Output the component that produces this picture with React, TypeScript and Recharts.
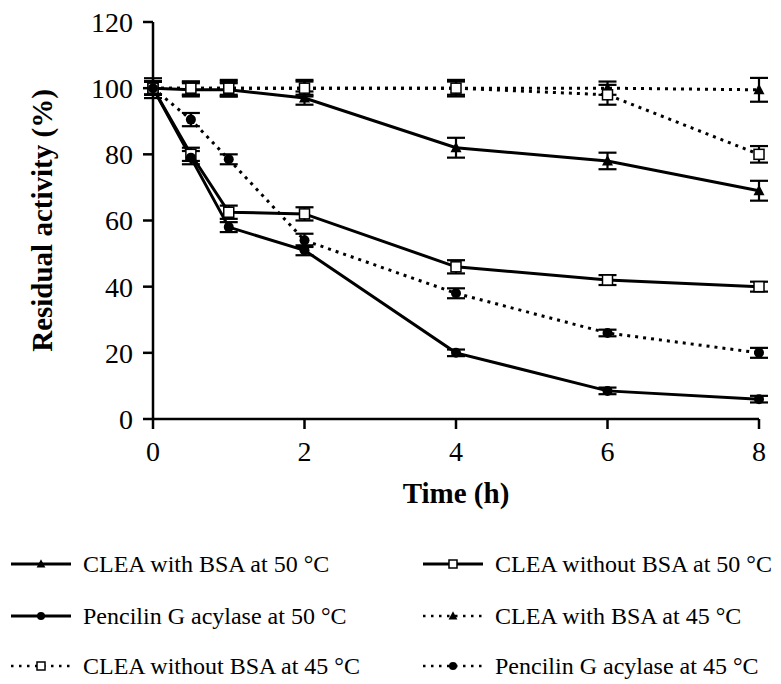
import React from 'react';
import { LineChart, Line, XAxis, YAxis, ErrorBar } from 'recharts';

// time points (h)
const times = [0, 0.5, 1, 2, 4, 6, 8];

// residual activity (%) and error bars
const bsa50 = [100, 99.5, 99.5, 97, 82, 78, 69];
const bsa50Err = [3, 2, 2, 2, 3, 2.5, 3];
const noBsa50 = [100, 80, 62.5, 62, 46, 42, 40];
const noBsa50Err = [2, 2, 2, 2, 2, 1.5, 1.5];
const pga50 = [100, 79, 58, 51, 20, 8.5, 6];
const pga50Err = [2, 2, 1.5, 1.5, 1, 1, 1];
const bsa45 = [100, 100, 100, 100, 100, 100, 99.5];
const bsa45Err = [2, 2, 2, 2, 2, 2, 3.6];
const noBsa45 = [100, 100, 100, 100, 100, 98, 80];
const noBsa45Err = [2, 2, 2.5, 2.5, 2.5, 3, 2.5];
const pga45 = [100, 90.5, 78.5, 54, 38, 26, 20];
const pga45Err = [2, 2, 1.5, 2, 1.5, 1, 1.5];

const xTicks = [0, 2, 4, 6, 8];
const yTicks = [0, 20, 40, 60, 80, 100, 120];

type Marker = 'triangle' | 'square' | 'circle';

const series: { key: string; name: string; values: number[]; errors: number[]; marker: Marker; dotted: boolean }[] = [
  { key: 'bsa50', name: 'CLEA with BSA at 50 °C', values: bsa50, errors: bsa50Err, marker: 'triangle', dotted: false },
  { key: 'noBsa50', name: 'CLEA without BSA at 50 °C', values: noBsa50, errors: noBsa50Err, marker: 'square', dotted: false },
  { key: 'pga50', name: 'Pencilin G acylase at 50 °C', values: pga50, errors: pga50Err, marker: 'circle', dotted: false },
  { key: 'bsa45', name: 'CLEA with BSA at 45 °C', values: bsa45, errors: bsa45Err, marker: 'triangle', dotted: true },
  { key: 'noBsa45', name: 'CLEA without BSA at 45 °C', values: noBsa45, errors: noBsa45Err, marker: 'square', dotted: true },
  { key: 'pga45', name: 'Pencilin G acylase at 45 °C', values: pga45, errors: pga45Err, marker: 'circle', dotted: true },
];

const rows = times.map((t, i) => {
  const row: Record<string, number> = { t };
  series.forEach((s) => {
    row[s.key] = s.values[i];
    row[s.key + 'Err'] = s.errors[i];
  });
  return row;
});

const font = 'Liberation Serif';

function drawMarker(marker: Marker, cx: number, cy: number, size: number) {
  if (marker === 'triangle') {
    return (
      <path
        d={`M${cx},${cy - size * 0.6} L${cx + size * 0.55},${cy + size * 0.45} L${cx - size * 0.55},${cy + size * 0.45} Z`}
        fill="#000"
      />
    );
  }
  if (marker === 'square') {
    return <rect x={cx - size / 2} y={cy - size / 2} width={size} height={size} fill="#fff" stroke="#000" strokeWidth={1.5} />;
  }
  return <circle cx={cx} cy={cy} r={size / 2} fill="#000" />;
}

// tick labels drawn by hand so the serif font sticks
const XTick = (p: any) => (
  <text x={p.x} y={p.y} dy="0.71em" textAnchor="middle" style={{ fontFamily: font }} fontSize={28} fill="#000">
    {p.payload.value}
  </text>
);

const YTick = (p: any) => (
  <text x={p.x} y={p.y} dy="0.355em" textAnchor="end" style={{ fontFamily: font }} fontSize={28} fill="#000">
    {p.payload.value}
  </text>
);

const XLabel = (props: any) => {
  const { viewBox } = props;
  return (
    <text x={viewBox.x + viewBox.width / 2} y={viewBox.y + 84} textAnchor="middle" style={{ fontFamily: font }} fontWeight="bold" fontSize={29} fill="#000">
      Time (h)
    </text>
  );
};

const YLabel = (props: any) => {
  const { viewBox } = props;
  const x = viewBox.x + 52;
  const y = viewBox.y + viewBox.height / 2;
  return (
    <text x={x} y={y} transform={`rotate(-90 ${x} ${y})`} textAnchor="middle" style={{ fontFamily: font }} fontWeight="bold" fontSize={29} fill="#000">
      Residual activity (%)
    </text>
  );
};

const legendRows = [564, 616, 666];

const App = () => {
  return (
    <div style={{ position: 'absolute', left: 0, top: 0, width: 781, height: 684, background: '#fff', fontFamily: font }}>
      <LineChart width={781} height={530} data={rows} margin={{ top: 22, right: 22, left: 0, bottom: 0 }} style={{ fontFamily: font }}>
        <XAxis
          dataKey="t"
          type="number"
          domain={[0, 8]}
          ticks={xTicks}
          height={111}
          tickSize={10}
          tickMargin={12}
          axisLine={{ stroke: '#000', strokeWidth: 2.5 }}
          tickLine={{ stroke: '#000', strokeWidth: 2.5 }}
          tick={<XTick />}
          label={<XLabel />}
        />
        <YAxis
          type="number"
          domain={[0, 120]}
          ticks={yTicks}
          width={153}
          tickSize={10}
          tickMargin={10}
          axisLine={{ stroke: '#000', strokeWidth: 2.5 }}
          tickLine={{ stroke: '#000', strokeWidth: 2.5 }}
          tick={<YTick />}
          label={<YLabel />}
        />
        {series.map((s) => (
          <Line
            key={s.key}
            dataKey={s.key}
            name={s.name}
            stroke="#000"
            strokeWidth={3}
            strokeDasharray={s.dotted ? '3 5' : undefined}
            isAnimationActive={false}
            dot={(p: any) => <g key={`${s.key}-${p.index}`}>{drawMarker(s.marker, p.cx, p.cy, 10)}</g>}
            activeDot={false}
          >
            <ErrorBar dataKey={s.key + 'Err'} width={9} strokeWidth={2.2} stroke="#000" direction="y" isAnimationActive={false} />
          </Line>
        ))}
      </LineChart>
      {series.map((s, i) => {
        const col = i % 2;
        const left = col === 0 ? 11 : 423;
        const top = legendRows[Math.floor(i / 2)] - 15;
        return (
          <div key={s.key} style={{ position: 'absolute', left, top, height: 30, display: 'flex', alignItems: 'center' }}>
            <svg width={60} height={30}>
              <line x1={0} y1={15} x2={60} y2={15} stroke="#000" strokeWidth={s.dotted ? 2.5 : 3} strokeDasharray={s.dotted ? '2.5 5.5' : undefined} />
              {drawMarker(s.marker, 30, 15, 8)}
            </svg>
            <span style={{ marginLeft: 12, fontSize: 24, lineHeight: '30px', color: '#000', whiteSpace: 'nowrap' }}>{s.name}</span>
          </div>
        );
      })}
    </div>
  );
};

export default App;
